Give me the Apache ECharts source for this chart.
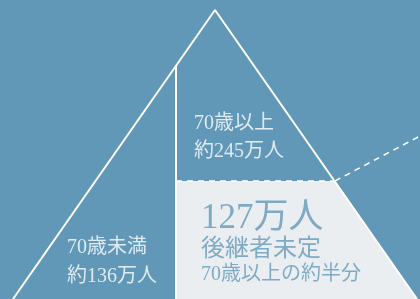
<!DOCTYPE html>
<html>
<head>
<meta charset="utf-8">
<script src="https://cdn.jsdelivr.net/npm/echarts@6/dist/echarts.min.js"></script>
<style>
  html, body { margin: 0; padding: 0; }
  #chart { width: 420px; height: 299px; }
</style>
</head>
<body>
<div id="chart"></div>
<script>
// pyramid outline and dividers, in a 420 x 299 plot space (y down)
var pyramid = [[13, 299], [215, 10], [417, 299]];
var divider = [[176, 65], [176, 299]];
var threshold = [[176, 181], [335, 181]];
var pointer = [[335, 181], [420, 136]];
var undecided = [[176, 181], [335, 181], [417, 299], [176, 299]];

// text blocks
var groups = ['70歳未満', '70歳以上'];
var counts = ['約136万人', '約245万人'];
var groupAnchors = [[67, 248], [194, 124]];
var countAnchors = [[67, 277], [194, 152]];
var highlight = ['127万人', '後継者未定', '70歳以上の約半分'];
var highlightAnchors = [[201, 219], [201, 250], [201, 275]];
var highlightSizes = [35, 24, 20];

var bg = '#6198b7';
var font = '"Liberation Serif", "Noto Sans CJK JP", serif';

var chart = echarts.init(document.getElementById('chart'));

function lineSeries(pts, dashed) {
    return {
        type: 'line',
        data: pts,
        symbol: 'none',
        silent: true,
        lineStyle: {
            color: '#fff',
            width: dashed ? 1.5 : 2,
            type: dashed ? [6, 5] : 'solid'
        },
        z: 3
    };
}

function textSeries(texts, anchors, color, sizes) {
    return {
        type: 'scatter',
        symbolSize: 0,
        silent: true,
        data: texts.map(function (t, i) {
            return {
                value: anchors[i],
                label: {
                    show: true,
                    formatter: t,
                    position: 'inside',
                    align: 'left',
                    verticalAlign: 'middle',
                    color: color,
                    fontFamily: font,
                    fontSize: sizes ? sizes[i] : 20
                }
            };
        }),
        z: 5
    };
}

chart.setOption({
    backgroundColor: bg,
    animation: false,
    grid: { left: 0, right: 0, top: 0, bottom: 0 },
    xAxis: { type: 'value', min: 0, max: 420, show: false },
    yAxis: { type: 'value', min: 0, max: 299, inverse: true, show: false },
    series: [
        {
            type: 'custom',
            silent: true,
            z: 1,
            data: [0],
            renderItem: function (params, api) {
                return {
                    type: 'polygon',
                    shape: { points: undecided.map(function (p) { return api.coord(p); }) },
                    style: { fill: '#eaeef1' }
                };
            }
        },
        lineSeries(pyramid, false),
        lineSeries(divider, false),
        lineSeries(threshold, true),
        lineSeries(pointer, true),
        textSeries(groups, groupAnchors, '#fff'),
        textSeries(counts, countAnchors, '#fff'),
        textSeries(highlight, highlightAnchors, '#6498b8', highlightSizes)
    ]
});
</script>
</body>
</html>
